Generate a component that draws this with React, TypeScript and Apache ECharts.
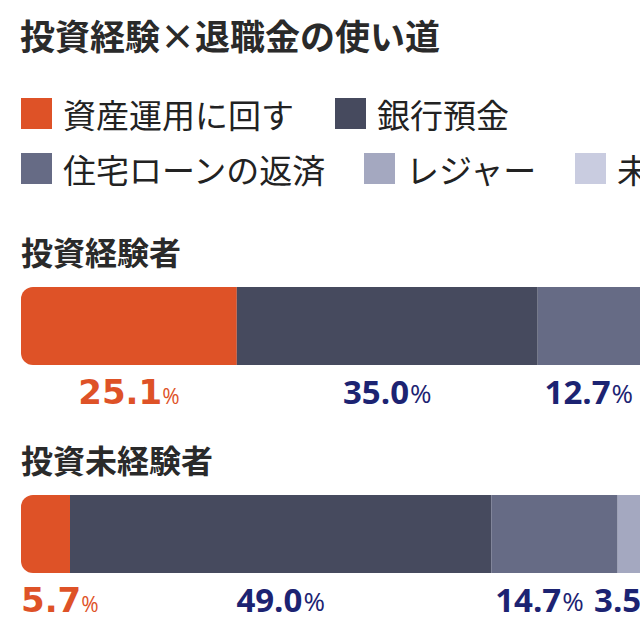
import { useEffect, useRef } from "react";
import * as echarts from "echarts";

// 投資経験 × 退職金の使い道（%）
const groups = ["投資経験者", "投資未経験者"];
const usageNames = ["資産運用に回す", "銀行預金", "住宅ローンの返済", "レジャー", "未定"];
const assetInvest = [25.1, 5.7];
const bankDeposit = [35.0, 49.0];
const mortgage = [12.7, 14.7];
const leisure = [5.9, 3.5]; // 右側は画面外（推定）
const undecided = [21.3, 27.1]; // 画面外（推定）

const seriesValues = [assetInvest, bankDeposit, mortgage, leisure, undecided];

const COLORS = ["#DE5227", "#464A5E", "#666B85", "#A4A8C0", "#C9CCE0"];
const LABEL_NAVY = "#1C2372";
const FONT = '"Noto Sans CJK JP", "Noto Sans", sans-serif';
const NUM_FONT = '"Open Sans", "Noto Sans", sans-serif';
const WIDE_NUM_FONT = '"DejaVu Sans", "Open Sans", sans-serif';

const GRID_LEFT = 21;
// 1% あたり約 8.6px で描かれた帯グラフの左側を切り出したレイアウト
const X_MAX = 72;

// 重なり回避用のラベル横ずらし（series-row）
const labelNudge: Record<string, number> = { "2-1": -15 };

export default function App() {
  const ref = useRef<HTMLDivElement | null>(null);

  useEffect(() => {
    if (!ref.current) return;
    const chart = echarts.init(ref.current, undefined, { renderer: "svg" });

    const legendCommon = {
      left: GRID_LEFT,
      width: 2000,
      padding: 0,
      icon: "rect",
      itemWidth: 31,
      itemHeight: 31,
      selectedMode: false,
      textStyle: { fontFamily: FONT, fontSize: 33, color: "#222", padding: [0, 0, 0, 6] },
    };

    const richFor = (i: number) =>
      i === 0
        ? {
            v: { fontFamily: WIDE_NUM_FONT, fontSize: 34, fontWeight: "bold", color: COLORS[0] },
            p: { fontFamily: NUM_FONT, fontSize: 21, color: COLORS[0], padding: [7, 0, 0, 0] },
          }
        : {
            v: { fontFamily: NUM_FONT, fontSize: 33, fontWeight: "bold", color: LABEL_NAVY },
            p: { fontFamily: NUM_FONT, fontSize: 26, color: LABEL_NAVY, padding: [2, 0, 0, 1] },
          };

    chart.setOption({
      animation: false,
      color: COLORS,
      title: {
        text: "投資経験×退職金の使い道",
        left: GRID_LEFT - 1,
        top: 17,
        padding: 0,
        textStyle: { fontFamily: FONT, fontSize: 35, fontWeight: "bold", color: "#2A2A2A" },
      },
      legend: [
        { ...legendCommon, top: 97, itemGap: 41, data: usageNames.slice(0, 2) },
        { ...legendCommon, top: 152, itemGap: 37, data: usageNames.slice(2) },
      ],
      grid: { left: GRID_LEFT, right: 0, top: 222, height: 416 },
      xAxis: { type: "value", min: 0, max: X_MAX, show: false },
      yAxis: {
        type: "category",
        data: groups,
        inverse: true,
        axisLine: { show: false },
        axisTick: { show: false },
        splitLine: { show: false },
        axisLabel: {
          inside: true,
          align: "left",
          verticalAlign: "bottom",
          margin: 0,
          padding: [0, 0, 57, 0],
          lineHeight: 36,
          fontFamily: FONT,
          fontSize: 32,
          fontWeight: "bold",
          color: "#2A2A2A",
        },
      },
      series: usageNames.map((name, i) => ({
        name,
        type: "bar",
        stack: "total",
        barWidth: 78,
        data: seriesValues[i],
        itemStyle: { borderRadius: i === 0 ? [12, 0, 0, 12] : 0 },
        label: {
          show: true,
          position: "bottom",
          distance: 10,
          formatter: (p: any) => `{v|${Number(p.value).toFixed(1)}}{p|%}`,
          rich: richFor(i),
        },
        labelLayout: (params: any) => {
          let dx = labelNudge[`${params.seriesIndex}-${params.dataIndex}`] || 0;
          const lx = params.labelRect.x + dx;
          if (lx < GRID_LEFT) dx += GRID_LEFT - lx;
          return { dx };
        },
      })),
    });

    return () => chart.dispose();
  }, []);

  return <div ref={ref} style={{ position: "absolute", left: 0, top: 0, width: 640, height: 640 }} />;
}
